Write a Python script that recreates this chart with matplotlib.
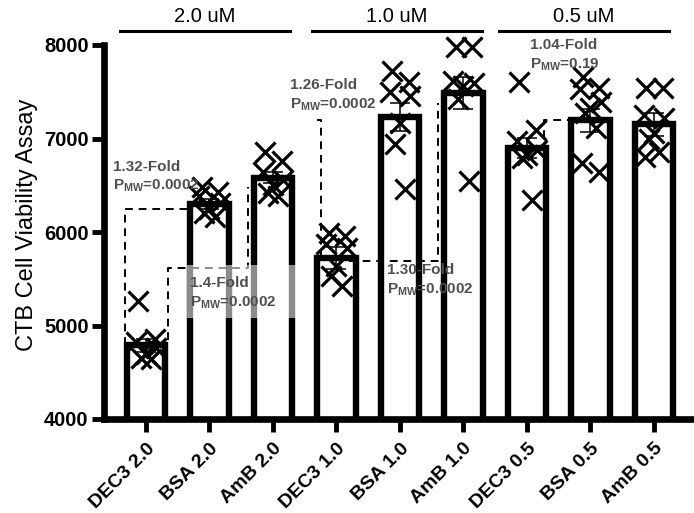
import matplotlib
matplotlib.use('Agg')
import matplotlib.pyplot as plt
from matplotlib.patches import Rectangle
import numpy as np

plt.rcParams['font.family'] = ['Liberation Sans', 'DejaVu Sans']
plt.rcParams['mathtext.fontset'] = 'custom'
plt.rcParams['mathtext.rm'] = 'Liberation Sans:bold'
plt.rcParams['mathtext.it'] = 'Liberation Sans:bold'
plt.rcParams['mathtext.bf'] = 'Liberation Sans:bold'

# data
labels = ['DEC3 2.0', 'BSA 2.0', 'AmB 2.0', 'DEC3 1.0', 'BSA 1.0', 'AmB 1.0',
          'DEC3 0.5', 'BSA 0.5', 'AmB 0.5']
means = [4790, 6300, 6580, 5720, 7230, 7490, 6900, 7195, 7150]
sems = [70, 50, 60, 120, 150, 170, 110, 125, 120]
dec3_20 = [5260, 4860, 4820, 4760, 4700, 4650, 4640]
bsa_20 = [6480, 6430, 6380, 6310, 6250, 6200, 6160]
amb_20 = [6860, 6760, 6640, 6560, 6500, 6420, 6380]
dec3_10 = [5990, 5960, 5870, 5830, 5640, 5530, 5420]
bsa_10 = [7720, 7600, 7500, 7450, 7170, 6940, 6460]
amb_10 = [7980, 7980, 7610, 7590, 7560, 7420, 6550]
dec3_05 = [7600, 7090, 6970, 6880, 6820, 6790, 6340]
bsa_05 = [7660, 7540, 7530, 7390, 7330, 7270, 7110, 6740, 6640]
amb_05 = [7540, 7540, 7250, 7220, 7060, 7000, 6860, 6800]
points = [dec3_20, bsa_20, amb_20, dec3_10, bsa_10, amb_10, dec3_05, bsa_05, amb_05]

groups = ['2.0 uM', '1.0 uM', '0.5 uM']

# fold comparisons: (text, p value)
folds = [('1.32-Fold', '0.0002'), ('1.4-Fold', '0.0002'), ('1.26-Fold', '0.0002'),
         ('1.30-Fold', '0.0002'), ('1.04-Fold', '0.19')]

fig = plt.figure(figsize=(6.94, 5.13), dpi=100)
ax = fig.add_axes([104/694, 94/513, 590/694, 374/513])

x = np.arange(len(labels))
bw = 0.61
ax.bar(x, means, width=bw, color='white', edgecolor='black', linewidth=4.6, zorder=2)
ax.errorbar(x, means, yerr=sems, fmt='none', ecolor='black', elinewidth=1.1,
            capsize=7, capthick=1.1, zorder=4)

spread = [-0.12, 0.14, -0.16, 0.16, 0.0, -0.08, 0.08, -0.14, 0.14]
for i, vals in enumerate(points):
    xs = [i + spread[k % len(spread)] for k in range(len(vals))]
    ax.plot(xs, vals, 'x', color='black', markersize=14.5, markeredgewidth=2.3,
            zorder=5, clip_on=False)

ax.set_xlim(-0.66, 8.63)
ax.set_ylim(4000, 8000)
ax.set_yticks([4000, 5000, 6000, 7000, 8000])
ax.set_xticks(x)
ax.set_xticklabels(labels, rotation=45, ha='right', rotation_mode='anchor',
                   fontsize=14, fontweight='bold')
for t in ax.get_yticklabels():
    t.set_fontsize(14.5)
    t.set_fontweight('bold')
ax.tick_params(axis='both', length=9, width=3.5, pad=2)
ax.tick_params(axis='x', pad=6)
for s in ['top', 'right']:
    ax.spines[s].set_visible(False)
for s in ['left', 'bottom']:
    ax.spines[s].set_linewidth(4.8)
ax.set_ylabel('CTB Cell Viability Assay', fontsize=17)
ax.yaxis.set_label_coords(-0.112, 0.52)

# dashed comparison brackets
dk = dict(color='black', linestyle=(0, (4, 3)), linewidth=1.4, zorder=3)
h = bw / 2
ax.plot([0 - h - 0.03, 0 - h - 0.03, 1 - h], [means[0], 6250, 6250], **dk)
ax.plot([0 + h + 0.05, 0 + h + 0.05, 1.61, 1.61], [means[0] + 60, 5615, 5615, 6480], **dk)
ax.plot([2.76, 2.76, 3 - h], [means[3], 7200, 7200], **dk)
ax.plot([3 + h - 0.1, 4.6, 4.6], [5690, 5690, 7380], **dk)
ax.plot([6.27, 6.27, 6 + h + 0.38], [7010, 7200, 7200], **dk)

# translucent box over the 1.4-fold label
ax.add_patch(Rectangle((0.65, 5080), 1.73, 570, facecolor='white', alpha=0.55,
                       edgecolor='none', zorder=6))

gray = '#505050'
txt_pos = [(-0.52, 6700), (0.69, 5455), (2.27, 7575), (3.80, 5595), (6.05, 8000)]
for (fold, p), (tx, ty) in zip(folds, txt_pos):
    ax.text(tx, ty, fold, color=gray, fontsize=11, fontweight='bold',
            ha='left', va='center', zorder=7)
    ax.text(tx, ty - 210, 'P$_{\\mathrm{MW}}$=' + p, color=gray, fontsize=11,
            fontweight='bold', ha='left', va='center', zorder=7)

# group labels on top
for g, c in zip(groups, [0.93, 3.95, 6.9]):
    ax.plot([c - 1.34, c + 1.34], [8150, 8150], color='black', linewidth=2.2,
            clip_on=False)
    ax.text(c, 8310, g, ha='center', va='center', fontsize=14.5)

fig.savefig('out.png', dpi=100)
